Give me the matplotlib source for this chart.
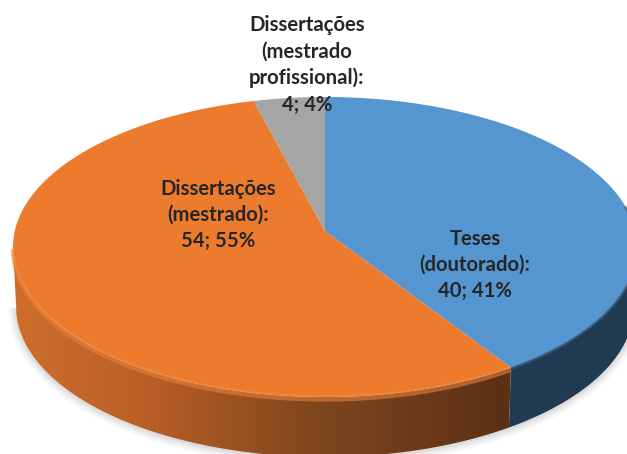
import matplotlib
matplotlib.use("Agg")
import matplotlib.pyplot as plt
import numpy as np
from matplotlib.patches import Polygon

categories = ["Teses\n(doutorado):", "Dissertações\n(mestrado\nprofissional):", "Dissertações\n(mestrado):"]
values = [40, 4, 54]
percents = [41, 4, 55]
# clockwise order on the pie, starting at 12 o'clock
pie_order = [0, 2, 1]
top_colors = {0: "#5596d0", 1: "#a5a5a5", 2: "#ec7b2e"}
label_pos = {0: (475, 265), 1: (307, 65), 2: (218, 215)}

# pie geometry in pixels, k gives the perspective of the tilted disc
CX, CY = 325, 231
A, B, K = 310.2, 148.3, 0.1067
DEPTH = 60
BOTTOM_SCALE = 0.99


def project(theta):
    s, c = np.sin(theta), np.cos(theta)
    w = 1 + K * c
    return CX + A * s / w, CY - B * c / w


def wall(start, end):
    thetas = np.linspace(start, end, 300)
    xs, ys = project(thetas)
    bx = CX + (xs - CX) * BOTTOM_SCALE
    return np.r_[xs, bx[::-1]], np.r_[ys, ys[::-1] + DEPTH]


fig = plt.figure(figsize=(6.27, 4.54), dpi=100)
ax = fig.add_axes([0, 0, 1, 1])
ax.axis("off")

total = sum(values)
edges = np.concatenate([[0], np.cumsum([values[i] for i in pie_order])]) / total * 2 * np.pi
side_left = np.radians(263.9)

# soft shadow under the front edge
front = np.linspace(np.radians(95), side_left, 200)
fx, fy = project(front)
fx = CX + (fx - CX) * BOTTOM_SCALE
for width, alpha in zip([16, 11, 7, 3], [0.05, 0.06, 0.08, 0.1]):
    ax.plot(fx, fy + DEPTH + 1, color="#808080", lw=width * 0.72, alpha=alpha, zorder=1, solid_capstyle="butt")

# dark blue wall
wx, wy = wall(np.radians(80), edges[1])
ax.fill(wx, wy, color="#203a52", lw=0, zorder=2)

# orange wall, gradient from left to right
grad_x = np.linspace(0, 627, 314)
stops = [15, 150, 320, 505]
grad = np.zeros((1, len(grad_x), 3))
grad[0, :, 0] = np.interp(grad_x, stops, [207, 184, 126, 92]) / 255
grad[0, :, 1] = np.interp(grad_x, stops, [110, 94, 70, 48]) / 255
grad[0, :, 2] = np.interp(grad_x, stops, [44, 38, 30, 20]) / 255
wx, wy = wall(edges[1], side_left)
clip = Polygon(np.c_[wx, wy], closed=True, transform=ax.transData, fc="none", ec="none")
ax.add_patch(clip)
img = ax.imshow(grad, extent=[0, 627, 454, 0], aspect="auto", interpolation="bilinear", zorder=2)
img.set_clip_path(clip)

# top face
for n, idx in enumerate(pie_order):
    thetas = np.linspace(edges[n], edges[n + 1], 200)
    xs, ys = project(thetas)
    ax.fill(np.r_[CX, xs], np.r_[CY, ys], color=top_colors[idx], lw=0, zorder=3)

# soft bevel along the front rim
rim = np.linspace(edges[1], side_left, 200)
rx, ry = project(rim)
ax.plot(rx, ry + 2.5, color="#e8803a", lw=3, alpha=0.6, zorder=2.5, solid_capstyle="butt")
ax.plot(rx, ry - 0.5, color="#f39153", lw=1.6, alpha=0.45, zorder=3.5, solid_capstyle="butt")
rim = np.linspace(np.radians(80), edges[1], 200)
rx, ry = project(rim)
ax.plot(rx, ry + 1, color="#3a648c", lw=2, alpha=0.6, zorder=3.5, solid_capstyle="butt")

# data labels
for i, name in enumerate(categories):
    x, y = label_pos[i]
    ax.text(x, y, f"{name}\n{values[i]}; {percents[i]}%", ha="center", va="center",
            family="Lato", fontweight="bold", fontsize=14.6, color="#262626",
            linespacing=1.38, zorder=5)

ax.set_xlim(0, 627)
ax.set_ylim(454, 0)
fig.savefig("out.png", dpi=100)
